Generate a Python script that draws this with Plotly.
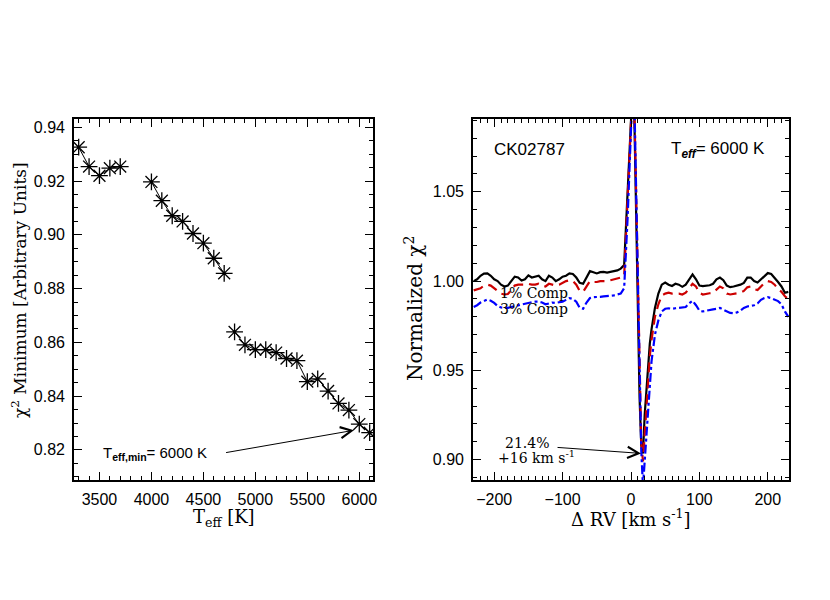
import plotly.graph_objects as go

# ---------------- Left panel data ----------------
teff = [3300, 3400, 3500, 3600, 3700,
        4000, 4100, 4200, 4300, 4400, 4500, 4600, 4700,
        4800, 4900, 5000, 5100, 5200, 5300, 5400, 5500, 5600, 5700, 5800, 5900, 6000, 6100]
chi2_min = [0.9326, 0.9254, 0.9220, 0.9248, 0.9254,
            0.9197, 0.9127, 0.9071, 0.9050, 0.9005, 0.8969, 0.8913, 0.8857,
            0.8639, 0.8591, 0.8573, 0.8573, 0.8562, 0.8540, 0.8532, 0.8454, 0.8464,
            0.8419, 0.8373, 0.8348, 0.8296, 0.8264]
segment = [0, 0, 0, 0, 0,
           1, 1, 1, 1, 1, 1, 1, 1,
           2, 2, 2, 2, 2, 2, 2, 2, 2, 2, 2, 2, 2, 2]
left_xticks = [3500, 4000, 4500, 5000, 5500, 6000]
left_yticks = [0.82, 0.84, 0.86, 0.88, 0.90, 0.92, 0.94]

# ---------------- Right panel data ----------------
rv = [-230, -225, -220, -215, -210, -205, -200, -195, -190, -185, -180, -175, -170, -165,
      -160, -155, -150, -145, -140, -135, -130, -125, -120, -115, -110, -105, -100, -95,
      -90, -85, -80, -75, -70, -65, -60, -55, -50, -45, -40, -35, -30, -25, -20, -15,
      -10, -5, 0, 2.5, 5, 7.5, 10, 12.5, 15, 17.5, 20, 22.5, 25, 27.5, 30, 35, 40, 45,
      50, 55, 60, 65, 70, 75, 80, 85, 90, 95, 100, 105, 110, 115, 120, 125, 130, 135,
      140, 145, 150, 155, 160, 165, 170, 175, 180, 185, 190, 195, 200, 205, 210, 215,
      220, 225, 230]
chi2_0pct = [1.000, 1.001, 1.003, 1.0042, 1.0043, 1.003, 1.001, 1.000, 0.998, 0.997, 0.9975, 1.000, 1.0025, 1.002,
             1.0003, 1.001, 1.0032, 1.002, 1.0025, 1.003, 1.001, 1.000, 1.003, 1.002, 1.000, 1.001, 1.0025, 1.003,
             1.0043, 1.004, 1.002, 0.999, 0.9985, 1.002, 1.0056, 1.005, 1.0043, 1.005, 1.0052, 1.0048, 1.005, 1.0056, 1.006, 1.007,
             1.009, 1.05, 1.091, 1.11, 1.09, 1.04, 0.99, 0.935, 0.908, 0.9035, 0.925, 0.940, 0.955, 0.965, 0.973, 0.985, 0.993, 0.998,
             0.9992, 0.998, 0.9973, 0.9985, 0.998, 0.9968, 0.998, 1.001, 1.0037, 1.001, 0.9975, 0.9972, 0.9975, 0.9977, 0.9985, 1.001, 1.002, 1.0005,
             0.9975, 0.9966, 0.997, 0.9975, 0.998, 0.999, 1.002, 1.002, 1.000, 0.9992, 1.001, 1.003, 1.0045, 1.004, 1.002, 0.9995,
             0.997, 0.9935, 0.994]
chi2_1pct = [0.9948, 0.9952, 0.996, 0.9975, 0.998, 0.9975, 0.996, 0.9945, 0.993, 0.9925, 0.9928, 0.995, 0.9975, 0.998,
             0.9978, 0.998, 0.9985, 0.998, 0.998, 0.9985, 0.9975, 0.997, 0.9985, 0.998, 0.9975, 0.998, 0.999, 1.000,
             1.0005, 1.000, 0.998, 0.9945, 0.994, 0.997, 1.000, 0.9995, 0.9995, 1.000, 1.000, 1.000, 1.0005, 1.001, 1.0015, 1.002,
             1.003, 1.045, 1.09, 1.11, 1.095, 1.045, 0.99, 0.94, 0.91, 0.899, 0.915, 0.930, 0.945, 0.958, 0.967, 0.980, 0.987, 0.992,
             0.993, 0.9935, 0.993, 0.993, 0.993, 0.9925, 0.9935, 0.996, 0.9985, 0.997, 0.9935, 0.9925, 0.993, 0.9932, 0.9935, 0.9955, 0.997, 0.996,
             0.993, 0.9925, 0.9928, 0.993, 0.9935, 0.9945, 0.9965, 0.997, 0.9955, 0.995, 0.997, 0.999, 1.000, 0.9995, 0.998, 0.9955,
             0.994, 0.9915, 0.990]
chi2_3pct = [0.9855, 0.9865, 0.988, 0.989, 0.9897, 0.989, 0.9878, 0.986, 0.9852, 0.985, 0.985, 0.9855, 0.986, 0.9865,
             0.987, 0.9875, 0.988, 0.9882, 0.9885, 0.9885, 0.988, 0.987, 0.9875, 0.988, 0.9878, 0.988, 0.9885, 0.9895,
             0.9905, 0.990, 0.9885, 0.985, 0.9845, 0.988, 0.9905, 0.991, 0.991, 0.9912, 0.9915, 0.9915, 0.9918, 0.992, 0.9925, 0.993,
             0.996, 1.035, 1.085, 1.11, 1.10, 1.05, 0.995, 0.94, 0.905, 0.885, 0.900, 0.915, 0.930, 0.945, 0.955, 0.970, 0.978, 0.983,
             0.9845, 0.9848, 0.9845, 0.9848, 0.985, 0.985, 0.9855, 0.9875, 0.989, 0.9865, 0.9835, 0.983, 0.9835, 0.984, 0.9842, 0.9845, 0.985, 0.984,
             0.983, 0.9822, 0.982, 0.9825, 0.9835, 0.985, 0.9858, 0.9862, 0.9865, 0.9875, 0.9895, 0.9905, 0.991, 0.9905, 0.9895, 0.9888,
             0.987, 0.983, 0.980]
right_xticks = [-200, -100, 0, 100, 200]
right_yticks = [0.90, 0.95, 1.00, 1.05]

SANS = "Liberation Sans"
SERIF = "DejaVu Serif"

W, H, OFF = 830, 600, 8   # page body margin offsets the figure by 8 px


def px(x):
    return (x - OFF) / W


def py(y):
    return 1 - (y - OFF) / H


LX = [3255, 6132]
LY = [0.8088, 0.9431]
RX = [-231, 231]
RY = [0.8886, 1.0908]
DOM_LX = [px(74), px(373)]
DOM_RX = [px(473), px(789)]
DOM_Y = [py(480), py(119)]

fig = go.Figure()

for sid in sorted(set(segment)):
    idx = [i for i, s in enumerate(segment) if s == sid]
    fig.add_trace(go.Scatter(
        x=[teff[i] for i in idx], y=[chi2_min[i] for i in idx],
        mode="lines+markers", xaxis="x", yaxis="y",
        line=dict(color="black", width=1),
        marker=dict(symbol="asterisk-open", size=14, color="black",
                    line=dict(color="black", width=1.3)),
        showlegend=False, hoverinfo="skip"))

fig.add_trace(go.Scatter(x=rv, y=chi2_0pct, mode="lines", xaxis="x2", yaxis="y2",
                         line=dict(color="black", width=2.2), showlegend=False))
fig.add_trace(go.Scatter(x=rv, y=chi2_1pct, mode="lines", xaxis="x2", yaxis="y2",
                         line=dict(color="#cc0000", width=2.2, dash="10px,6px"), showlegend=False))
fig.add_trace(go.Scatter(x=rv, y=chi2_3pct, mode="lines", xaxis="x2", yaxis="y2",
                         line=dict(color="#0000ff", width=2.2, dash="dashdot"), showlegend=False))
# empty traces so that the mirrored tick axes (top/right) are drawn
fig.add_trace(go.Scatter(x=[], y=[], xaxis="x3", yaxis="y3", showlegend=False))
fig.add_trace(go.Scatter(x=[], y=[], xaxis="x4", yaxis="y4", showlegend=False))


def axis(domain, rng, tickvals, minor_dtick, minor_tick0, anchor, fmt=None, labels=True,
         side=None, overlaying=None):
    d = dict(domain=domain, range=rng, tickvals=tickvals, anchor=anchor,
             showline=True, linecolor="black", linewidth=1.6, mirror=True,
             ticks="inside", ticklen=8, tickwidth=1, tickcolor="black",
             minor=dict(dtick=minor_dtick, tick0=minor_tick0, ticks="inside",
                        ticklen=4, tickwidth=1, tickcolor="black"),
             showgrid=False, zeroline=False, automargin=False,
             showticklabels=labels, ticklabelstandoff=4,
             tickfont=dict(family=SANS, size=16, color="black"))
    if fmt:
        d["tickformat"] = fmt
    if side:
        d["side"] = side
    if overlaying:
        d["overlaying"] = overlaying
    return d


fig.update_layout(
    width=W, height=H,
    margin=dict(l=0, r=0, t=0, b=0, autoexpand=False),
    paper_bgcolor="white", plot_bgcolor="white",
    xaxis=axis(DOM_LX, LX, left_xticks, 100, 3300, "y"),
    yaxis=axis(DOM_Y, LY, left_yticks, 0.005, 0.80, "x", fmt=".2f"),
    xaxis2=axis(DOM_RX, RX, right_xticks, 10, 0, "y2"),
    yaxis2=axis(DOM_Y, RY, right_yticks, 0.01, 0.90, "x2", fmt=".2f"),
    xaxis3=axis(DOM_LX, LX, left_xticks, 100, 3300, "y", labels=False, side="top", overlaying="x"),
    yaxis3=axis(DOM_Y, LY, left_yticks, 0.005, 0.80, "x", labels=False, side="right", overlaying="y"),
    xaxis4=axis(DOM_RX, RX, right_xticks, 10, 0, "y2", labels=False, side="top", overlaying="x2"),
    yaxis4=axis(DOM_Y, RY, right_yticks, 0.01, 0.90, "x2", labels=False, side="right", overlaying="y2"),
)

C = dict(xanchor="center", yanchor="middle", showarrow=False)
ann = []
# axis titles
ann.append(dict(text="T<sub>eff</sub> [K]", x=px(224), y=py(518), xref="paper", yref="paper",
                font=dict(family=SERIF, size=18, color="black"), **C))
ann.append(dict(text="χ<sup>2</sup> Minimum [Arbitrary Units]", x=px(19), y=py(290),
                xref="paper", yref="paper", textangle=-90,
                font=dict(family=SERIF, size=17, color="black"), **C))
ann.append(dict(text="Δ RV [km s<sup>-1</sup>]", x=px(631), y=py(518), xref="paper", yref="paper",
                font=dict(family=SERIF, size=18, color="black"), **C))
ann.append(dict(text="Normalized χ<sup>2</sup>", x=px(414), y=py(309),
                xref="paper", yref="paper", textangle=-90,
                font=dict(family=SERIF, size=20, color="black"), **C))

# left annotation + arrow
ann.append(dict(text="T<sub><b>eff,min</b></sub>= 6000 K", x=4030, y=0.8185, xref="x", yref="y",
                font=dict(family=SANS, size=15, color="black"), **C))
ann.append(dict(text="", x=5949, y=0.8273, ax=4704, ay=0.8189, xref="x", yref="y",
                axref="x", ayref="y", showarrow=True, arrowhead=5, arrowsize=2.2,
                arrowwidth=1, arrowcolor="black"))

# right panel texts
ann.append(dict(text="CK02787", x=-148, y=1.0735, xref="x2", yref="y2",
                font=dict(family=SANS, size=17, color="black"), **C))
ann.append(dict(text="T<sub><b><i>eff</i></b></sub>= 6000 K", x=127, y=1.0735, xref="x2", yref="y2",
                font=dict(family=SANS, size=17, color="black"), **C))
ann.append(dict(text="1% Comp", x=-142, y=0.9935, xref="x2", yref="y2",
                font=dict(family=SERIF, size=14, color="black"), **C))
ann.append(dict(text="3% Comp", x=-142, y=0.9845, xref="x2", yref="y2",
                font=dict(family=SERIF, size=14, color="black"), **C))
ann.append(dict(text="21.4%", x=-152, y=0.9091, xref="x2", yref="y2",
                font=dict(family=SERIF, size=14, color="black"), **C))
ann.append(dict(text="+16 km s<sup>-1</sup>", x=-138, y=0.9015, xref="x2", yref="y2",
                font=dict(family=SERIF, size=14, color="black"), **C))
ann.append(dict(text="", x=14.6, y=0.9035, ax=-109.6, ay=0.9069, xref="x2", yref="y2",
                axref="x2", ayref="y2", showarrow=True, arrowhead=5, arrowsize=2.2,
                arrowwidth=1, arrowcolor="black"))

fig.update_layout(annotations=ann)
fig.write_html("out.html")
